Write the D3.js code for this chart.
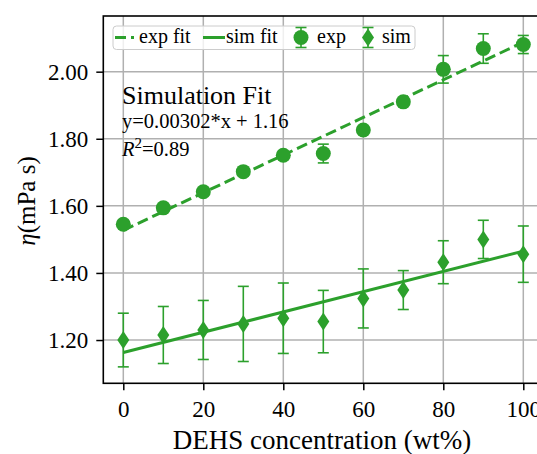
<!DOCTYPE html>
<html><head><meta charset="utf-8">
<script src="https://cdn.jsdelivr.net/npm/d3@7"></script>
<style>body{margin:0;background:#fff}svg{display:block}text{font-family:"Liberation Serif",serif;fill:#000}</style>
</head><body><svg id="c" width="537" height="454"></svg>
<script>
const conc = [0,10,20,30,40,50,60,70,80,90,100];
const expVals = [1.545,1.594,1.642,1.702,1.751,1.756,1.826,1.910,2.007,2.069,2.081];
const expErr  = [0.006,0.005,0.006,0.012,0.008,0.028,0.008,0.007,0.041,0.044,0.027];
const simVals = [1.200,1.215,1.230,1.248,1.265,1.255,1.324,1.349,1.432,1.500,1.456];
const simErr  = [0.080,0.085,0.088,0.112,0.105,0.093,0.088,0.058,0.064,0.057,0.084];
const fitX = [0,100];
const expFit = [1.527,2.088];
const simFit = [1.163,1.465];
const xTicks = [0,20,40,60,80,100];
const yTicks = [1.20,1.40,1.60,1.80,2.00];
const legendLabels = ["exp fit","sim fit","exp","sim"];

const green = "#2ca02c";
const FF = "'Liberation Serif', serif";
const svg = d3.select("#c");
const L=103.3, T=16, B=383.3;
const x = d3.scaleLinear().domain([-5,105]).range([L, L+440]);
const y = d3.scaleLinear().domain([1.071,2.166]).range([B, T]);

// grid
const g = svg.append("g");
g.selectAll(".vg").data(xTicks).join("line").attr("x1",d=>x(d)).attr("x2",d=>x(d)).attr("y1",T).attr("y2",B)
  .attr("stroke","#b0b0b0").attr("stroke-width",1.5);
g.selectAll(".hg").data(yTicks).join("line").attr("y1",d=>y(d)).attr("y2",d=>y(d)).attr("x1",L).attr("x2",600)
  .attr("stroke","#b0b0b0").attr("stroke-width",1.5);

// axes
const xa = svg.append("g").attr("transform",`translate(0,${B})`).call(d3.axisBottom(x).tickValues(xTicks).tickSize(7).tickPadding(5).tickFormat(d3.format("d")));
const ya = svg.append("g").attr("transform",`translate(${L},0)`).call(d3.axisLeft(y).tickValues(yTicks).tickSize(7).tickPadding(8).tickFormat(d3.format(".2f")));
[xa,ya].forEach(a=>{a.attr("font-family",FF).attr("font-size",23);
  a.select(".domain").remove();a.selectAll("line").attr("stroke","#000").attr("stroke-width",1.5);
  a.selectAll("text").attr("font-family",FF).style("font-family",FF).style("font-size","23px").attr("fill","#000");});
xa.selectAll("text").attr("dy","0.93em");
// frame
svg.append("rect").attr("x",L).attr("y",T).attr("width",700).attr("height",B-T).attr("fill","none").attr("stroke","#000").attr("stroke-width",1.6);

// fit lines
const line = d3.line().x(d=>x(d[0])).y(d=>y(d[1]));
svg.append("path").attr("d",line(fitX.map((v,i)=>[v,expFit[i]]))).attr("stroke",green).attr("stroke-width",3).attr("fill","none").attr("stroke-dasharray","11,5");
svg.append("path").attr("d",line(fitX.map((v,i)=>[v,simFit[i]]))).attr("stroke",green).attr("stroke-width",3).attr("fill","none");

function errbars(vals, errs){
  const eg = svg.append("g").attr("stroke",green).attr("stroke-width",1.6);
  conc.forEach((c,i)=>{
    const cx=x(c), y1=y(vals[i]-errs[i]), y2=y(vals[i]+errs[i]);
    eg.append("line").attr("x1",cx).attr("x2",cx).attr("y1",y1).attr("y2",y2);
    eg.append("line").attr("x1",cx-5.5).attr("x2",cx+5.5).attr("y1",y1).attr("y2",y1);
    eg.append("line").attr("x1",cx-5.5).attr("x2",cx+5.5).attr("y1",y2).attr("y2",y2);
  });
}
errbars(expVals, expErr);
errbars(simVals, simErr);
svg.append("g").selectAll("circle").data(conc).join("circle").attr("cx",d=>x(d)).attr("cy",(d,i)=>y(expVals[i])).attr("r",7.5).attr("fill",green);
const diamond = (cx,cy)=>`M${cx},${cy-9}L${cx+6},${cy}L${cx},${cy+9}L${cx-6},${cy}Z`;
svg.append("g").selectAll("path").data(conc).join("path").attr("d",(d,i)=>diamond(x(d),y(simVals[i]))).attr("fill",green);

// annotation
svg.append("text").attr("x",122).attr("y",104).style("font-size","26px").text("Simulation Fit");
svg.append("text").attr("x",122).attr("y",128).style("font-size","20.5px").text("y=0.00302*x + 1.16");
const r2 = svg.append("text").attr("x",122).attr("y",156).style("font-size","20.5px");
r2.append("tspan").style("font-style","italic").text("R");
r2.append("tspan").attr("dy",-8).style("font-size","15px").text("2");
r2.append("tspan").attr("dy",8).text("=0.89");

// legend
const lg = svg.append("g");
lg.append("rect").attr("x",113).attr("y",26).attr("width",302).attr("height",23.5).attr("rx",3.5)
  .attr("fill","#fff").attr("fill-opacity",0.8).attr("stroke","#ccc").attr("stroke-width",1);
const ly=37.5, lb=43;
lg.append("line").attr("x1",115).attr("x2",134).attr("y1",ly).attr("y2",ly).attr("stroke",green).attr("stroke-width",3).attr("stroke-dasharray","11,5");
lg.append("line").attr("x1",203).attr("x2",225).attr("y1",ly).attr("y2",ly).attr("stroke",green).attr("stroke-width",3);
[301,368].forEach(cx=>{
  lg.append("line").attr("x1",cx).attr("x2",cx).attr("y1",27.5).attr("y2",47.5).attr("stroke",green).attr("stroke-width",1.6);
  [27.5,47.5].forEach(yy=>lg.append("line").attr("x1",cx-5.5).attr("x2",cx+5.5).attr("y1",yy).attr("y2",yy).attr("stroke",green).attr("stroke-width",1.6));
});
lg.append("circle").attr("cx",301).attr("cy",ly).attr("r",7.5).attr("fill",green);
lg.append("path").attr("d",diamond(368,ly)).attr("fill",green);
const lx=[139,226,317,382];
lg.selectAll("text").data(legendLabels).join("text").attr("x",(d,i)=>lx[i]).attr("y",lb).style("font-size","20px").text(d=>d);

// axis labels
svg.append("text").attr("x",322).attr("y",449).attr("text-anchor","middle").style("font-size","27px").text("DEHS concentration (wt%)");
const yl = svg.append("text").attr("transform","translate(35,201) rotate(-90)").attr("text-anchor","middle").style("font-size","25px");
yl.append("tspan").style("font-style","italic").text("η");
yl.append("tspan").text("(mPa s)");
</script></body></html>
